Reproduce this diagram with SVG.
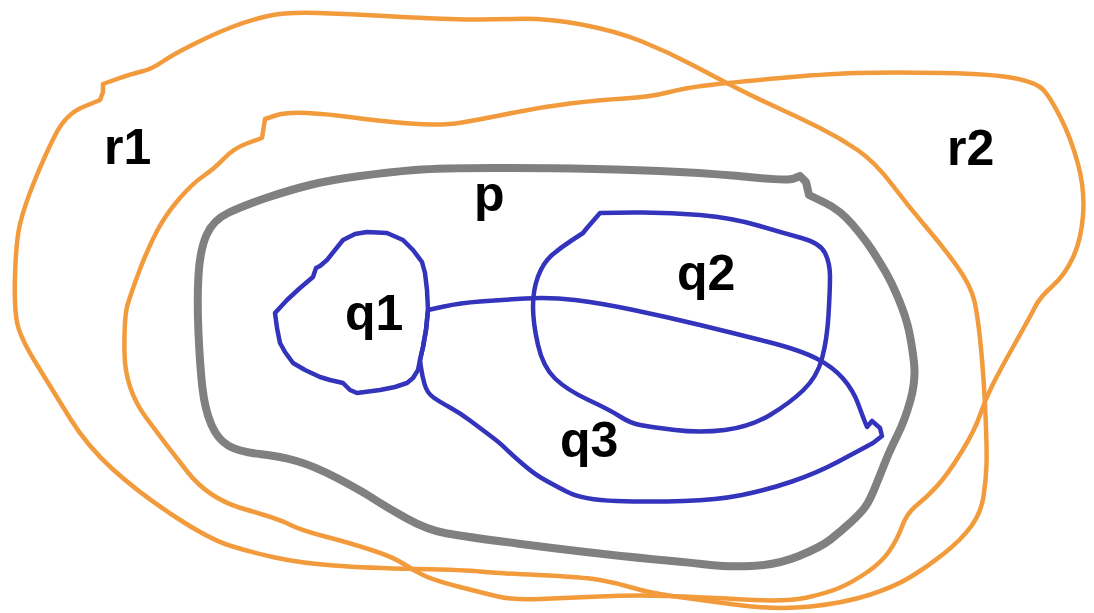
<svg xmlns="http://www.w3.org/2000/svg" width="1094" height="613" viewBox="0 0 1094 613">
<style>
.o{fill:none;stroke:#F29B3C;stroke-width:4.5;stroke-linejoin:round;stroke-linecap:round}
.g{fill:none;stroke:#808080;stroke-width:8;stroke-linejoin:round;stroke-linecap:round}
.b{fill:none;stroke:#3333BB;stroke-width:4.5;stroke-linejoin:round;stroke-linecap:round}
.t{font-family:"Liberation Sans",Arial,sans-serif;font-weight:bold;font-size:50px;fill:#000}
</style>
<rect width="1094" height="613" fill="#fff"/>
<g id="r1">
<path class="o" d="M117,79 Q131,74 141.5,71.5 Q152,69 162,62 Q172,55 193,44.5 Q214,34 232,27 Q250,20 268,16 Q286,12 318,13 Q350,14 385,16 Q420,18 450,19 Q480,20 513.5,19 Q547,18 581.5,24.5 Q616,31 642,41.5 Q668,52 693.5,65.5 Q719,79 736.5,88 Q754,97 777,107.5 Q800,118 820,128 Q840,138 857.5,150 Q875,162 892,184.5 Q909,207 926.5,227.5 Q944,248 957.5,267 Q971,286 974.5,301.5 Q978,317 981,348.5 Q984,380 985.5,415 Q987,450 986.5,465 Q986,480 983.5,496.5 Q981,513 971,526.5 Q961,540 944,553.5 Q927,567 910.5,577 Q894,587 869,595 Q844,603 810.5,606.5 Q777,610 738.5,605 Q700,600 675,596.5 Q650,593 633.5,588 Q617,583 600,580 Q583,577 538,575 Q493,573 480,571.5 Q467,570 417,569 Q367,568 333.5,565.5 Q300,563 275,557.5 Q250,552 229.5,545.5 Q209,539 174,516 Q139,493 113,469.5 Q87,446 69.5,417.5 Q52,389 36.5,364 Q21,339 17.5,324.5 Q14,310 15,275.5 Q16,241 20,224 Q24,207 34.5,181 Q45,155 55.5,134.5 Q66,114 83,107 L100,100 L103,92 L103,84 Z"/>
<text class="t" x="104" y="164">r1</text>
</g>
<g id="r2">
<path class="o" d="M265,119 L275.5,115.5 Q286,112 307,113 Q328,114 353.5,117.5 Q379,121 410,123.5 Q441,126 462,122.5 Q483,119 512,113 Q541,107 570,103.5 Q599,100 624.5,98.5 Q650,97 667.5,92.5 Q685,88 705.5,85.5 Q726,83 774.5,78.5 Q823,74 857.5,73 Q892,72 943.5,73 Q995,74 1016,78.5 Q1037,83 1043.5,90 Q1050,97 1060.5,117.5 Q1071,138 1078,164 Q1085,190 1083,215.5 Q1081,241 1072.5,258.5 Q1064,276 1052,286.5 Q1040,297 1035,307 Q1030,317 1015,343.5 Q1000,370 992.5,385 Q985,400 980,415 Q975,430 961.5,452 Q948,474 937.5,485.5 Q927,497 917,505 Q907,513 902,526.5 Q897,540 889,551.5 Q881,563 866,573 Q851,583 839,588 Q827,593 807,597.5 Q787,602 743.5,599.5 Q700,597 666.5,596 Q633,595 600,596.5 Q567,598 540,599 Q513,600 498,596.5 Q483,593 458,586.5 Q433,580 423,575 Q413,570 403,563.5 Q393,557 371.5,550 Q350,543 325,536.5 Q300,530 289.5,524.5 Q279,519 244,509 Q209,499 188,472.5 Q167,446 146,417.5 Q125,389 124.5,353 Q124,317 127.5,305 Q131,293 139.5,270.5 Q148,248 157,231 Q166,214 179.5,198.5 Q193,183 203.5,176 Q214,169 224,158.5 Q234,148 248,143 L262,138 Z"/>
<text class="t" x="947" y="165">r2</text>
</g>
<g id="p">
<path class="g" d="M206.5,235 Q213,220 229,212.5 Q245,205 267.5,197.5 Q290,190 310,185 Q330,180 360,176 Q390,172 415,170 Q440,168 493.5,168 Q547,168 593.5,169 Q640,170 679.5,172 Q719,174 753.5,177.5 Q788,181 794,178.5 L800,176 L806,182 L809,195 L824.5,202.5 Q840,210 852,224 Q864,238 871,248.5 Q878,259 885,271 Q892,283 899,300 Q906,317 909,331 Q912,345 914,362.5 Q916,380 910.5,400 Q905,420 897.5,435 Q890,450 885,462.5 Q880,475 875,487.5 Q870,500 865.5,506.5 Q861,513 850.5,522.5 Q840,532 830.5,539.5 Q821,547 799,556 Q777,565 752,566 Q727,567 710.5,565 Q694,563 667,560.5 Q640,558 603.5,554 Q567,550 517,543.5 Q467,537 447,533.5 Q427,530 405,517.5 Q383,505 371.5,497.5 Q360,490 337,478 Q314,466 296.5,461 Q279,456 259.5,454 Q240,452 229,446 Q218,440 211.5,425 Q205,410 202.5,388.5 Q200,367 198.5,333.5 Q197,300 198.5,275 Q200,250 206.5,235 Z"/>
<text class="t" x="474" y="211">p</text>
</g>
<g id="q1">
<path class="b" d="M367,232 L387,233 403,240 413,250 422,262 425,273 427,290 428,310 426,330 423,347 420,360 418,370 413,378 407,383 395,387 380,390 357,393 350,390 343,383 330,380 320,377 305,370 293,363 285,352 280,343 277,328 275,313 287,300 300,288 313,277 316,268 320,266 327,260 343,240 355,234 Z"/>
<text class="t" x="345" y="330">q1</text>
</g>
<g id="q2">
<path class="b" d="M633.5,212.5 L600,213 L587,228 L583,233 L571.5,240.5 Q560,248 551.5,255.5 Q543,263 538,276.5 Q533,290 533,306.5 Q533,323 538,345 Q543,367 555,378.5 Q567,390 588.5,400 Q610,410 620,416.5 Q630,423 640,425 Q650,427 675,430 Q700,433 725,430 Q750,427 770,415 Q790,403 803.5,390 Q817,377 822,358.5 Q827,340 828.5,315 Q830,290 830,276.5 Q830,263 825,253 Q820,243 801.5,238 Q783,233 758,225.5 Q733,218 700,215 Q667,212 633.5,212.5 Z"/>
<text class="t" x="677" y="290">q2</text>
</g>
<g id="q3">
<path class="b" d="M428,310 L444,306.5 Q460,303 480,301.5 Q500,300 525,298.5 Q550,297 575,300 Q600,303 633.5,310 Q667,317 700,325 Q733,333 766.5,341.5 Q800,350 816.5,358.5 Q833,367 843,378.5 Q853,390 858,403.5 Q863,417 865,422 L867,427 L872,421 L880,428 L882,436 L873,443 L860,450 L838.5,461.5 Q817,473 792,481.5 Q767,490 742,495 Q717,500 683.5,501 Q650,502 616.5,501 Q583,500 566.5,491.5 Q550,483 541.5,478 Q533,473 521.5,463 Q510,453 505,448 Q500,443 490,435.5 Q480,428 470,420.5 Q460,413 450,407.5 Q440,402 433.5,397.5 Q427,393 424.5,384 Q422,375 421,367.5 L420,360 L423,347 L426,330 Z"/>
<text class="t" x="560" y="457">q3</text>
</g>
</svg>
